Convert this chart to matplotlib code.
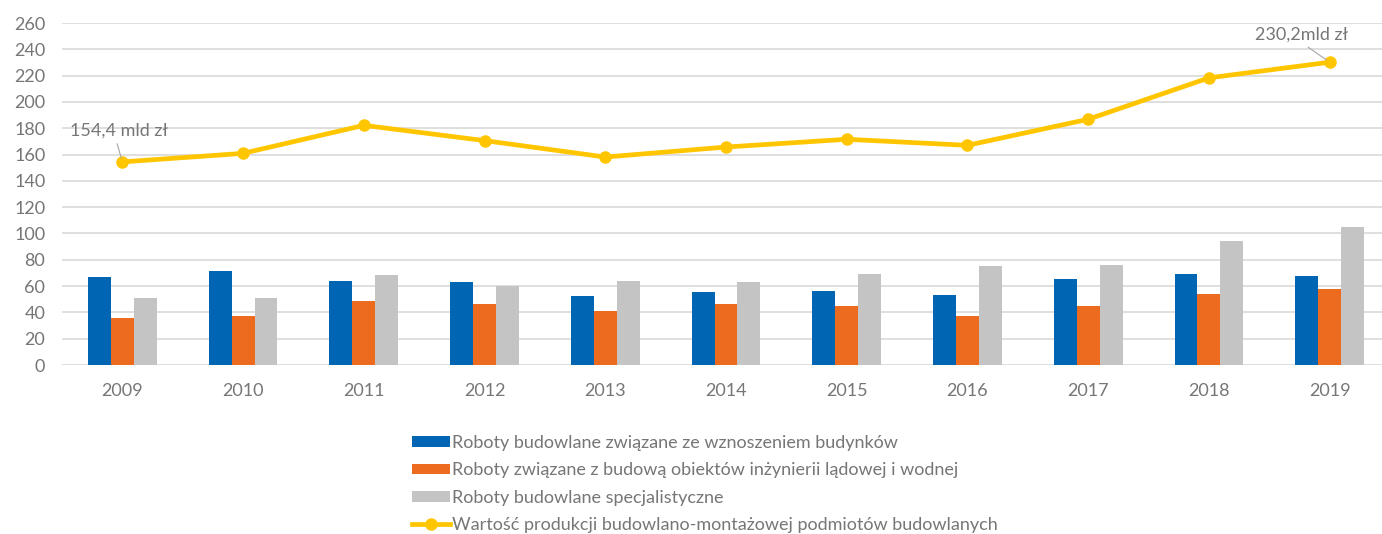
import numpy as np
import matplotlib
matplotlib.use("Agg")
import matplotlib.pyplot as plt

years = ["2009", "2010", "2011", "2012", "2013", "2014", "2015", "2016", "2017", "2018", "2019"]
budynki = [67.0, 71.6, 64.0, 62.9, 52.8, 55.3, 56.6, 53.3, 65.5, 69.3, 67.5]
inzynieria = [35.8, 37.6, 48.5, 46.7, 40.9, 46.7, 44.7, 37.6, 45.2, 53.8, 57.4]
specjalistyczne = [51.0, 51.0, 68.8, 60.4, 63.7, 62.9, 69.5, 75.4, 75.9, 94.4, 104.8]
produkcja = [154.4, 160.9, 182.2, 170.6, 158.1, 165.7, 171.6, 167.0, 186.8, 218.3, 230.2]

labels = [
    "Roboty budowlane związane ze wznoszeniem budynków",
    "Roboty związane z budową obiektów inżynierii lądowej i wodnej",
    "Roboty budowlane specjalistyczne",
    "Wartość produkcji budowlano-montażowej podmiotów budowlanych",
]

plt.rcParams['font.family'] = ['Lato', 'DejaVu Sans']
text_color = '#767676'
fs = 13

fig = plt.figure(figsize=(13.82, 5.34), dpi=100)
ax = fig.add_axes([62 / 1382, 169 / 534, 1328 / 1382, 342 / 534])

x = np.arange(len(years))
w = 0.19
b1 = ax.bar(x - w, budynki, w, color='#0066B3', label=labels[0], zorder=2)
b2 = ax.bar(x, inzynieria, w, color='#EC6B1E', label=labels[1], zorder=2)
b3 = ax.bar(x + w, specjalistyczne, w, color='#C4C4C4', label=labels[2], zorder=2)
ln, = ax.plot(x, produkcja, color='#FFC600', lw=3.4, marker='o', markersize=8,
              label=labels[3], zorder=3)

ax.set_xlim(-0.5, len(years) - 0.5)
ax.set_ylim(0, 260)
ax.set_yticks(range(0, 261, 20))
ax.set_xticks(x)
ax.set_xticklabels(years)
ax.yaxis.grid(True, color='#D9D9D9', lw=1.2, zorder=0)
ax.set_axisbelow(True)
for s in ax.spines.values():
    s.set_visible(False)
ax.tick_params(axis='both', length=0, colors=text_color, labelsize=fs)
ax.tick_params(axis='x', pad=13)
ax.tick_params(axis='y', pad=12)

# data labels with leader lines
ax.annotate("154,4 mld zł", xy=(0, produkcja[0]), xytext=(-0.43, 178.5),
            color=text_color, fontsize=fs, ha='left', va='center',
            arrowprops=dict(arrowstyle='-', color='#A6A6A6', lw=0.8,
                            relpos=(0.46, 0), shrinkA=2, shrinkB=3))
ax.annotate("230,2mld zł", xy=(10, produkcja[10]), xytext=(9.77, 251),
            color=text_color, fontsize=fs, ha='center', va='center',
            arrowprops=dict(arrowstyle='-', color='#A6A6A6', lw=0.8,
                            relpos=(0.5, 0), shrinkA=2, shrinkB=3))

fig.legend(handles=[b1, b2, b3, ln], labels=labels, loc='upper left',
           bbox_to_anchor=(405 / 1382, 106 / 534), frameon=False,
           fontsize=fs, labelcolor=text_color, handlelength=2.1,
           handleheight=0.55, handletextpad=0.1, labelspacing=0.62,
           borderaxespad=0)

fig.savefig("out.png", dpi=100)
